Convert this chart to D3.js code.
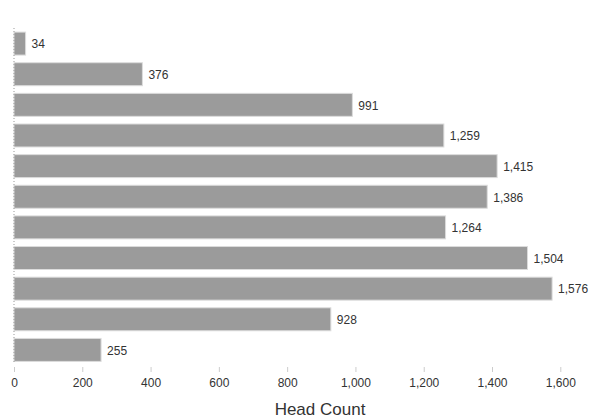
<!DOCTYPE html>
<html>
<head>
<meta charset="utf-8">
<script src="https://cdn.jsdelivr.net/npm/d3@7"></script>
<style>
  html, body { margin: 0; padding: 0; background: #fff; }
  svg { display: block; font-family: "Liberation Sans", Arial, sans-serif; }
</style>
</head>
<body>
<div id="chart"></div>
<script>
// 各组人数(类别标签在原图中被裁掉,只保留顺序)
const categories = ['A', 'B', 'C', 'D', 'E', 'F', 'G', 'H', 'I', 'J', 'K'];
const headCounts = [34, 376, 991, 1259, 1415, 1386, 1264, 1504, 1576, 928, 255];
const xTicks = [0, 200, 400, 600, 800, 1000, 1200, 1400, 1600];

const width = 605;
const height = 419;

const svg = d3.select('#chart')
    .append('svg')
    .attr('width', width)
    .attr('height', height);

// x 比例尺: 0 -> 14px, 1600 -> 560px
const x = d3.scaleLinear()
    .domain([0, 1600])
    .range([14, 560.3]);

const y = d3.scaleBand()
    .domain(categories)
    .range([27.5, 366])
    .paddingInner(0.25)
    .paddingOuter(0.15);

// 柱子
svg.append('g')
    .selectAll('rect')
    .data(headCounts)
    .enter()
    .append('rect')
    .attr('x', x(0))
    .attr('y', (d, i) => y(categories[i]))
    .attr('width', d => x(d) - x(0))
    .attr('height', y.bandwidth())
    .style('fill', '#9b9b9b')
    .style('stroke', '#dcdcdc')
    .style('stroke-width', 1);

// 数值标签
svg.append('g')
    .selectAll('text')
    .data(headCounts)
    .enter()
    .append('text')
    .attr('x', d => x(d) + 6)
    .attr('y', (d, i) => y(categories[i]) + y.bandwidth() / 2)
    .attr('dy', '0.4em')
    .style('font-size', '12px')
    .style('fill', '#333')
    .text(d => d3.format(',')(d));

// y 轴(虚线)
svg.append('line')
    .attr('x1', x(0))
    .attr('x2', x(0))
    .attr('y1', 28)
    .attr('y2', 364)
    .style('stroke', '#999')
    .style('stroke-width', 1)
    .style('stroke-dasharray', '1,2');

// x 轴
const xAxis = d3.axisBottom(x)
    .tickValues(xTicks)
    .tickFormat(d3.format(','))
    .tickSize(5)
    .tickPadding(6);

const gx = svg.append('g')
    .attr('transform', 'translate(0,367)')
    .call(xAxis);

gx.select('.domain').remove();
gx.selectAll('.tick line').style('stroke', '#ccc');
gx.selectAll('.tick text')
    .style('font-size', '12px')
    .style('fill', '#333')
    .style('font-family', '"Liberation Sans", Arial, sans-serif');

// 轴标题
svg.append('text')
    .attr('x', 320)
    .attr('y', 409)
    .attr('text-anchor', 'middle')
    .attr('dy', '0.35em')
    .style('font-size', '17px')
    .style('fill', '#333')
    .text('Head Count');
</script>
</body>
</html>
